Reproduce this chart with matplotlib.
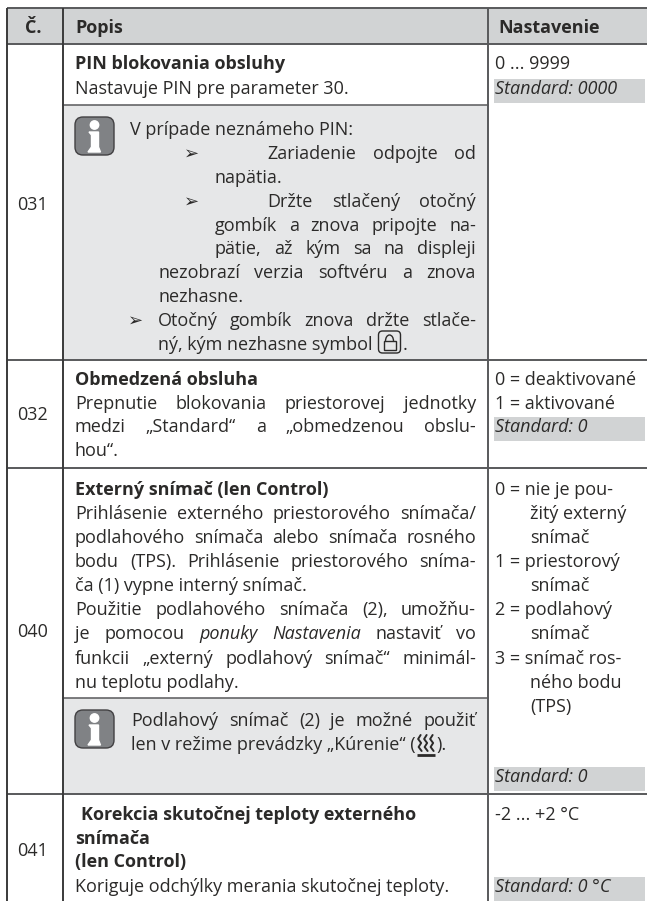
"""Settings table page: parameter 031 to 041."""
import matplotlib
matplotlib.use("Agg")
import matplotlib.pyplot as plt
from matplotlib.patches import FancyBboxPatch, Rectangle, Arc, Polygon

plt.rcParams["font.family"] = ["Open Sans", "DejaVu Sans"]

FS = 13
DARK = "#2b2a29"
HEAD_GRAY = "#d1d3d4"
NOTE_GRAY = "#e6e7e8"
LINE = "#58595b"

COL_X = [7, 63, 487.5, 647]
ROW_Y = [8, 44, 360, 468, 794, 901]
RIGHT = 476

HEADERS = ["Č.", "Popis", "Nastavenie"]
NUMBERS = ["031", "032", "040", "041"]
NUMBER_Y = [210, 420, 637, 856]

# (text, baseline, x, weight, justified)
POPIS = [
    ("PIN blokovania obsluhy", 69, 75, "bold", False),
    ("Nastavuje PIN pre parameter 30.", 94, 75, "normal", False),
    ("V prípade neznámeho PIN:", 135, 130, "normal", False),
    ("Zariadenie odpojte od", 159, 267, "normal", True),
    ("napätia.", 183, 215, "normal", False),
    ("Držte stlačený otočný", 207, 267, "normal", True),
    ("gombík a znova pripojte na-", 231, 215, "normal", True),
    ("pätie, až kým sa na displeji", 254, 215, "normal", True),
    ("nezobrazí verzia softvéru a znova", 278, 158, "normal", True),
    ("nezhasne.", 302, 158, "normal", False),
    ("Otočný gombík znova držte stlače-", 326, 158, "normal", True),
    ("Obmedzená obsluha", 385, 75, "bold", False),
    ("Prepnutie blokovania priestorovej jednotky", 409, 75, "normal", True),
    ("medzi „Standard“ a „obmedzenou obslu-", 432, 75, "normal", True),
    ("hou“.", 456, 75, "normal", False),
    ("Externý snímač (len Control)", 495, 75, "bold", False),
    ("Prihlásenie externého priestorového snímača/", 519, 75, "normal", True),
    ("podlahového snímača alebo snímača rosného", 543, 75, "normal", True),
    ("bodu (TPS). Prihlásenie priestorového sníma-", 567, 75, "normal", True),
    ("ča (1) vypne interný snímač.", 591, 75, "normal", False),
    ("Použitie podlahového snímača (2), umožňu-", 615, 75, "normal", True),
    ("je pomocou ponuky Nastavenia nastaviť vo", 639, 75, "normal", True),
    ("funkcii „externý podlahový snímač“ minimál-", 664, 75, "normal", True),
    ("nu teplotu podlahy.", 688, 75, "normal", False),
    ("Podlahový snímač (2) je možné použiť", 726, 131, "normal", True),
    ("Korekcia skutočnej teploty externého", 820, 81, "bold", False),
    ("snímača", 844, 75, "bold", False),
    ("(len Control)", 867, 75, "bold", False),
    ("Koriguje odchýlky merania skutočnej teploty.", 892, 75, "normal", False),
]
ITALIC_WORDS = ["ponuky", "Nastavenia"]

# (text, baseline, x)
NASTAVENIE = [
    ("0 ... 9999", 69, 495),
    ("0 = deaktivované", 385, 495),
    ("1 = aktivované", 409, 495),
    ("0 = nie je pou-", 495, 495),
    ("žitý externý", 519, 530),
    ("snímač", 543, 530),
    ("1 = priestorový", 567, 495),
    ("snímač", 591, 530),
    ("2 = podlahový", 615, 495),
    ("snímač", 639, 530),
    ("3 = snímač ros-", 664, 495),
    ("ného bodu", 688, 530),
    ("(TPS)", 712, 530),
    ("-2 ... +2 °C", 820, 495),
]

STANDARD = ["Standard: 0000", "Standard: 0", "Standard: 0", "Standard: 0 °C"]
STANDARD_Y = [94, 432, 782, 892]
NOTE_BOXES = [(105, 360), (698, 794)]
ICON_Y = [117, 710]
ARROWS = [(184, 159), (184, 207), (128, 326)]


def put(ax, x, y, s, weight="normal", style="normal", **kw):
    return ax.text(x, y, s, fontsize=FS, color=DARK, fontweight=weight,
                   fontstyle=style, va="baseline", **kw)


def width(fig, t):
    return t.get_window_extent(fig.canvas.get_renderer()).width


def justified(fig, ax, x, y, s, right, weight):
    words = s.split(" ")
    items = [put(ax, x, y, w, weight, "italic" if w in ITALIC_WORDS else "normal") for w in words]
    widths = [width(fig, t) for t in items]
    gap = (right - x - sum(widths)) / (len(words) - 1)
    cur = x
    for t, w in zip(items, widths):
        t.set_x(cur)
        cur += w + gap


def info_icon(ax, x, y):
    ax.add_patch(FancyBboxPatch((x, y), 39, 38, boxstyle="round,pad=0,rounding_size=8",
                                fc="#808285", ec="#414042", lw=1, zorder=3))
    ax.add_patch(plt.Circle((x + 19.5, y + 8), 4.2, color="white", zorder=4))
    stem = [(x + 14, y + 15), (x + 23.5, y + 15), (x + 23.5, y + 30), (x + 25.5, y + 35),
            (x + 13, y + 35), (x + 16.5, y + 30), (x + 16.5, y + 18)]
    ax.add_patch(Polygon(stem, closed=True, color="white", zorder=4))


def lock_icon(ax, x, y):
    ax.add_patch(FancyBboxPatch((x, y), 22, 22, boxstyle="round,pad=0,rounding_size=4",
                                fc="none", ec=DARK, lw=1))
    ax.add_patch(Rectangle((x + 5, y + 10), 12, 9, fc="none", ec=DARK, lw=1))
    ax.add_patch(Arc((x + 11, y + 10), 8, 12, theta1=180, theta2=360, ec=DARK, lw=1))


def heat_icon(ax, x, y):
    # three small waves over a base line
    for dx in (0, 6, 12):
        xs = [x + dx + 3, x + dx + 0.5, x + dx + 3.5, x + dx + 1, x + dx + 4]
        ys = [y, y + 4, y + 8, y + 12, y + 16]
        ax.plot(xs, ys, color=DARK, lw=1.4, solid_capstyle="round")
    ax.plot([x - 1, x + 17], [y + 20, y + 20], color=DARK, lw=2, solid_capstyle="butt")


fig = plt.figure(figsize=(6.47, 9.01), dpi=100)
ax = fig.add_axes([0, 0, 1, 1])
ax.set_xlim(0, 647)
ax.set_ylim(901, 0)
ax.axis("off")

# backgrounds
ax.add_patch(Rectangle((COL_X[0], ROW_Y[0]), COL_X[3] - COL_X[0], ROW_Y[1] - ROW_Y[0], fc=HEAD_GRAY, ec="none"))
for top, bottom in NOTE_BOXES:
    ax.add_patch(Rectangle((COL_X[1], top), COL_X[2] - COL_X[1], bottom - top, fc=NOTE_GRAY, ec="none"))
for label, y in zip(STANDARD, STANDARD_Y):
    ax.add_patch(Rectangle((494, y - 15), 151, 24, fc=HEAD_GRAY, ec="none"))
    put(ax, 495, y, label, style="italic")

# rules
for y in ROW_Y[:-1]:
    ax.plot([COL_X[0], COL_X[3]], [y, y], color=LINE, lw=1.4, solid_capstyle="butt")
for top, bottom in NOTE_BOXES:
    ax.plot([COL_X[1], COL_X[2]], [top, top], color=LINE, lw=1.1)
for x, c in zip(COL_X[:3], ["#3a3a3a", "#3a3a3a", LINE]):
    ax.plot([x, x], [ROW_Y[0], ROW_Y[-1]], color=c, lw=1.4, solid_capstyle="butt")

# header
put(ax, 33, 33, HEADERS[0], weight="bold", ha="center")
put(ax, 75, 33, HEADERS[1], weight="bold")
put(ax, 498, 33, HEADERS[2], weight="bold")

for num, y in zip(NUMBERS, NUMBER_Y):
    put(ax, 33, y, num, ha="center")

for text, y, x, weight, just in POPIS:
    if just:
        justified(fig, ax, x, y, text, RIGHT, weight)
    else:
        put(ax, x, y, text, weight)

for text, y, x in NASTAVENIE:
    put(ax, x, y, text)

for x, y in ARROWS:
    put(ax, x, y, "➢")

# lines that carry an icon
lead = put(ax, 158, 350, "ný, kým nezhasne symbol")
lock_x = 158 + width(fig, lead) + 6
lock_icon(ax, lock_x, 331)
put(ax, lock_x + 24, 350, ".")

lead = put(ax, 131, 750, "len v režime prevádzky „Kúrenie“ (")
heat_x = 131 + width(fig, lead) + 2
heat_icon(ax, heat_x, 735)
put(ax, heat_x + 19, 750, ").")

for y in ICON_Y:
    info_icon(ax, 75, y)

fig.savefig("out.png", dpi=100)
